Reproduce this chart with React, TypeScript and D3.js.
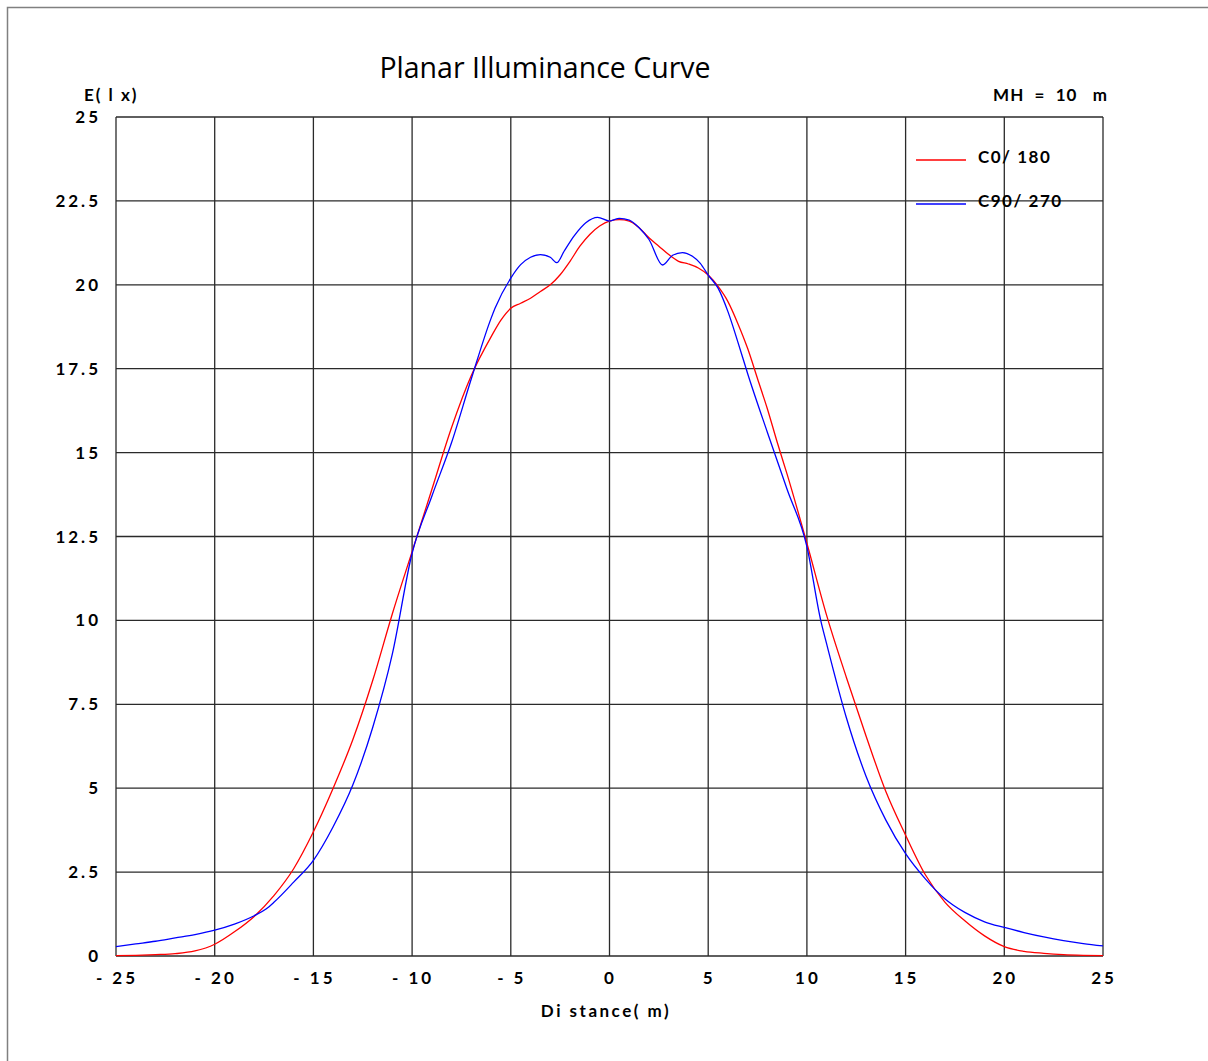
import React, { useEffect, useRef } from 'react';
import * as d3 from 'd3';

// C0/180 curve
const c0Dist = [-25, -24, -23, -22, -21, -20, -19, -18, -17, -16, -15, -14, -13, -12, -11, -10, -9, -8, -7, -6, -5.5, -5, -4.5, -4, -3.5, -3, -2.5, -2, -1.5, -1, -0.5, 0, 0.5, 1, 1.5, 2, 2.5, 3, 3.5, 4, 4.5, 5, 5.5, 6, 6.5, 7, 7.5, 8, 8.5, 9, 10, 11, 12, 13, 14, 15, 16, 17, 18, 19, 20, 21, 22, 23, 24, 25];
const c0Lux = [0.01, 0.02, 0.04, 0.07, 0.15, 0.35, 0.72, 1.18, 1.8, 2.6, 3.7, 5.0, 6.45, 8.2, 10.2, 12.05, 13.9, 15.75, 17.3, 18.45, 18.95, 19.3, 19.45, 19.6, 19.8, 20.0, 20.3, 20.7, 21.15, 21.5, 21.75, 21.9, 21.94, 21.9, 21.7, 21.4, 21.15, 20.9, 20.7, 20.62, 20.5, 20.29, 19.95, 19.5, 18.85, 18.1, 17.2, 16.3, 15.3, 14.35, 12.3, 10.15, 8.3, 6.55, 4.9, 3.6, 2.42, 1.6, 1.05, 0.6, 0.28, 0.14, 0.08, 0.04, 0.02, 0.01];

// C90/270 curve
const c90Dist = [-25, -24, -23, -22, -21, -20, -19, -18, -17.4, -17, -16, -15, -14, -13, -12, -11, -10, -9, -8, -7, -6, -5.8, -5, -4.5, -4, -3.5, -3, -2.67, -2.3, -1.8, -1.2, -0.6, 0, 0.5, 1, 1.5, 2, 2.69, 3.2, 3.7, 4.2, 4.6, 5, 5.5, 6, 6.5, 7, 8, 9, 10, 10.7, 11, 12, 13, 14, 15, 16, 17, 17.4, 18, 19, 20, 21, 22, 23, 24, 25];
const c90Lux = [0.28, 0.36, 0.44, 0.54, 0.64, 0.77, 0.95, 1.2, 1.4, 1.6, 2.2, 2.85, 3.85, 5.1, 6.8, 9.0, 12.0, 13.7, 15.3, 17.2, 19.0, 19.3, 20.2, 20.6, 20.82, 20.9, 20.82, 20.66, 21.0, 21.45, 21.85, 22.01, 21.9, 21.98, 21.93, 21.7, 21.35, 20.59, 20.88, 20.96, 20.85, 20.64, 20.29, 19.9, 19.2, 18.3, 17.35, 15.6, 13.9, 12.2, 10.0, 9.3, 7.1, 5.35, 4.05, 3.05, 2.3, 1.7, 1.52, 1.3, 1.02, 0.85, 0.7, 0.57, 0.46, 0.37, 0.3];

const xTicks = [-25, -20, -15, -10, -5, 0, 5, 10, 15, 20, 25];
const yTicks = [0, 2.5, 5, 7.5, 10, 12.5, 15, 17.5, 20, 22.5, 25];

const series = [
  { name: 'C0/ 180', dist: c0Dist, lux: c0Lux, color: '#ff0000' },
  { name: 'C90/ 270', dist: c90Dist, lux: c90Lux, color: '#0000ff' },
];

const width = 1208;
const height = 1061;
const margin = { top: 117, right: 105, bottom: 105, left: 116 };
const labelFont = 'Lato, "Noto Sans", sans-serif';

const App: React.FC = () => {
  const svgRef = useRef<SVGSVGElement | null>(null);

  useEffect(() => {
    if (!svgRef.current) return;
    const svg = d3.select(svgRef.current);
    svg.selectAll('*').remove();

    const x = d3.scaleLinear().domain([-25, 25]).range([margin.left, width - margin.right]);
    const y = d3.scaleLinear().domain([0, 25]).range([height - margin.bottom, margin.top]);

    // outer frame (cropped on right and bottom)
    svg.append('path')
      .attr('d', `M7.5,${height + 5} L7.5,7.5 L${width + 5},7.5`)
      .attr('fill', 'none')
      .attr('stroke', '#808080')
      .attr('stroke-width', 1.5);

    // grid
    const grid = svg.append('g').attr('stroke', '#2a2a2a').attr('stroke-width', 1.3);
    grid.selectAll('line.v')
      .data(xTicks)
      .enter().append('line')
      .attr('x1', d => x(d)).attr('x2', d => x(d))
      .attr('y1', y(0)).attr('y2', y(25));
    grid.selectAll('line.h')
      .data(yTicks)
      .enter().append('line')
      .attr('y1', d => y(d)).attr('y2', d => y(d))
      .attr('x1', x(-25)).attr('x2', x(25));

    // y tick labels
    svg.append('g').selectAll('text')
      .data(yTicks)
      .enter().append('text')
      .attr('x', 101)
      .attr('y', d => y(d) + 6)
      .attr('text-anchor', 'end')
      .attr('font-family', labelFont)
      .attr('font-weight', 700)
      .attr('font-size', 17)
      .attr('letter-spacing', 3)
      .text(d => String(d));

    // x tick labels
    svg.append('g').selectAll('text')
      .data(xTicks)
      .enter().append('text')
      .attr('x', d => x(d) + 1)
      .attr('y', 984)
      .attr('text-anchor', 'middle')
      .attr('font-family', labelFont)
      .attr('font-weight', 700)
      .attr('font-size', 17)
      .attr('letter-spacing', 3)
      .text(d => (d < 0 ? `- ${-d}` : String(d)));

    // curves
    const line = d3.line<[number, number]>()
      .x(d => x(d[0]))
      .y(d => y(d[1]))
      .curve(d3.curveMonotoneX);

    series.forEach(s => {
      const pts: [number, number][] = s.dist.map((d, i) => [d, s.lux[i]]);
      svg.append('path')
        .attr('d', line(pts) || '')
        .attr('fill', 'none')
        .attr('stroke', s.color)
        .attr('stroke-width', 1.3);
    });

    // legend
    const legend = svg.append('g');
    series.forEach((s, i) => {
      const ly = 160 + i * 44;
      legend.append('line')
        .attr('x1', 916).attr('x2', 966)
        .attr('y1', ly).attr('y2', ly)
        .attr('stroke', s.color)
        .attr('stroke-width', 1.3);
      legend.append('text')
        .attr('x', 978)
        .attr('y', ly + 3)
        .attr('font-family', labelFont)
        .attr('font-weight', 700)
        .attr('font-size', 17)
        .attr('letter-spacing', 1.5)
        .text(s.name);
    });

    // titles and axis labels
    svg.append('text')
      .attr('x', 545)
      .attr('y', 78)
      .attr('text-anchor', 'middle')
      .attr('font-family', '"Open Sans", "Noto Sans", sans-serif')
      .attr('font-size', 28.5)
      .text('Planar Illuminance Curve');

    svg.append('text')
      .attr('x', 84)
      .attr('y', 101)
      .attr('font-family', labelFont)
      .attr('font-weight', 700)
      .attr('font-size', 17)
      .attr('letter-spacing', 2)
      .text('E( l x)');

    svg.append('text')
      .attr('x', 1108)
      .attr('y', 101)
      .attr('text-anchor', 'end')
      .attr('font-family', labelFont)
      .attr('font-weight', 700)
      .attr('font-size', 17)
      .attr('letter-spacing', 1)
      .attr('xml:space', 'preserve')
      .style('white-space', 'pre')
      .text('MH  =  10   m');

    svg.append('text')
      .attr('x', 606)
      .attr('y', 1017)
      .attr('text-anchor', 'middle')
      .attr('font-family', labelFont)
      .attr('font-weight', 700)
      .attr('font-size', 17)
      .attr('letter-spacing', 2.5)
      .text('Di stance( m)');
  }, []);

  return (
    <svg
      ref={svgRef}
      width={width}
      height={height}
      style={{ position: 'absolute', left: 0, top: 0, background: '#fff' }}
    />
  );
};

export default App;
